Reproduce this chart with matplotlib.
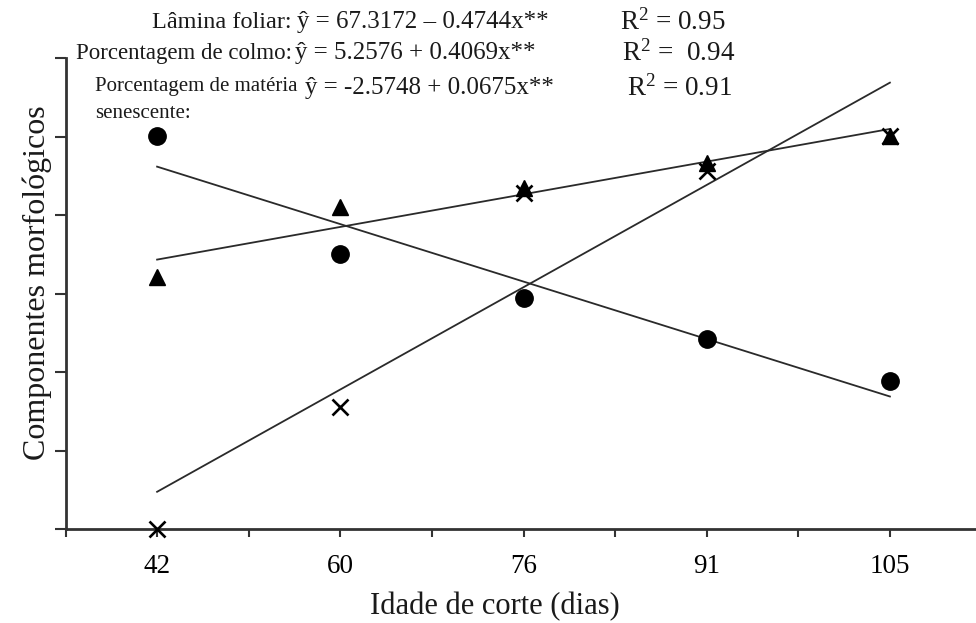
import numpy as np
import matplotlib
matplotlib.use('Agg')
import matplotlib.pyplot as plt
from matplotlib.ticker import FixedLocator

plt.rcParams['font.family'] = ['Liberation Serif', 'DejaVu Serif']
plt.rcParams['mathtext.fontset'] = 'custom'
plt.rcParams['mathtext.rm'] = 'Liberation Serif'
plt.rcParams['mathtext.it'] = 'Liberation Serif:italic'

# Data (y axis has no labels, scale 0-60)
dias = ['42', '60', '76', '91', '105']
lamina = [50.1, 35.0, 29.4, 24.2, 18.9]
colmo = [32.1, 41.0, 43.4, 46.6, 50.1]
senescente = [0.0, 15.5, 42.8, 45.6, 50.1]

eq_labels = ['Lâmina foliar:', 'Porcentagem de colmo:', 'Porcentagem de matéria']
equations = ['ŷ = 67.3172 – 0.4744x**', 'ŷ = 5.2576 + 0.4069x**', 'ŷ = -2.5748 + 0.0675x**']
r2_labels = ['R$^{2}$ = 0.95', 'R$^{2}$ =  0.94', 'R$^{2}$ = 0.91']

W, H = 976, 623
fig = plt.figure(figsize=(W / 100, H / 100), dpi=100)
ax = fig.add_axes([65.5 / W, 1 - 529 / H, (W - 65.5) / W, (529 - 58) / H])

x = np.arange(len(dias))
ink = '#1a1a1a'

# fitted regression lines over the sampled range
for serie in (lamina, colmo, senescente):
    b, a = np.polyfit(x, serie, 1)
    ax.plot(x[[0, -1]], a + b * x[[0, -1]], color='#2a2a2a', lw=1.3, zorder=2)

ax.plot(x, lamina, 'o', color='black', ms=12.5, clip_on=False, zorder=3)
ax.plot(x, colmo, '^', color='black', ms=12, clip_on=False, zorder=3)
ax.plot(x, senescente, 'x', color='black', ms=12, mew=1.9, clip_on=False, zorder=3)

ax.set_xlim(-0.5, -0.5 + (W - 65.5) / 183.2)
ax.set_ylim(0, 60)
ax.set_xticks(x)
ax.set_xticklabels(dias, fontsize=19.5)
ax.xaxis.set_minor_locator(FixedLocator(np.arange(-0.5, 4, 1.0)))
ax.set_yticks(np.arange(0, 61, 10))
ax.set_yticklabels([])
ax.tick_params(axis='x', which='both', direction='out', length=6, width=1.5, color='#333333', pad=12)
ax.tick_params(axis='y', direction='out', length=8, width=1.5, color='#333333')

for s in ('top', 'right'):
    ax.spines[s].set_visible(False)
for s in ('left', 'bottom'):
    ax.spines[s].set_linewidth(2)
    ax.spines[s].set_color('#333333')

fig.text(37 / W, 1 - 283 / H, 'Componentes morfológicos', rotation=90,
         ha='center', va='center', fontsize=23, color=ink)
fig.text(495 / W, 1 - 607 / H, 'Idade de corte (dias)', ha='center', va='center',
         fontsize=22, color=ink)

# equations at the top
rows_y = [22, 53, 88]
lab_x = [292, 292, 95]
lab_fs = [17.5, 16.5, 15]
eq_x = [297, 295, 305]
r2_x = [620, 622, 627]
for i in range(3):
    yy = 1 - rows_y[i] / H
    if i < 2:
        fig.text(lab_x[i] / W, yy, eq_labels[i], ha='right', va='center', fontsize=lab_fs[i], color=ink)
    else:
        fig.text(lab_x[i] / W, 1 - 86 / H, eq_labels[i], ha='left', va='center',
                 fontsize=lab_fs[i], color=ink)
        fig.text(lab_x[i] / W, 1 - 113 / H, 'senescente:', ha='left', va='center',
                 fontsize=lab_fs[i], color=ink)
    fig.text(eq_x[i] / W, yy, equations[i], ha='left', va='center', fontsize=18, color=ink)
    fig.text(r2_x[i] / W, yy, r2_labels[i], ha='left', va='center', fontsize=19.5, color=ink)

fig.savefig('out.png', dpi=100)
